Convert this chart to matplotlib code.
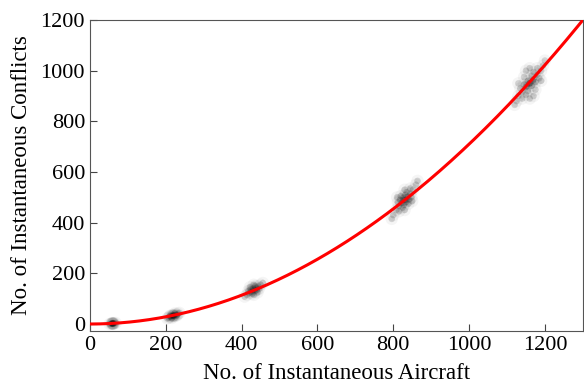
import matplotlib
matplotlib.use("Agg")
import matplotlib.pyplot as plt
import numpy as np

c1_x = [60, 56, 64, 52, 68, 58, 62, 60, 60, 60, 58, 62]
c1_y = [2, 1, 3, 0, 4, 3, 1, 0, 4, 2, 2, 2]

c2_x = [220, 214, 226, 208, 232, 204, 236, 218, 222, 212, 228, 216, 224, 210, 230,
        220, 218, 222]
c2_y = [33, 29, 37, 25, 41, 22, 44, 36, 30, 33, 33, 24, 42, 30, 36, 33, 32, 34]

c3_x = [432, 426, 438, 420, 444, 414, 450, 430, 434, 424, 440, 408, 456, 428, 436,
        418, 446, 432, 432, 442, 422]
c3_y = [135, 128, 142, 122, 148, 115, 155, 140, 130, 136, 134, 108, 162, 120, 150,
        130, 140, 155, 115, 125, 145]

c4_x = [830, 822, 838, 815, 845, 808, 852, 826, 834, 818, 842, 800, 860, 825, 835,
        812, 848, 830, 830, 796, 864, 820, 840, 828, 832, 815, 845, 810, 850, 826, 834]
c4_y = [490, 478, 502, 465, 515, 450, 530, 498, 482, 490, 492, 430, 550, 460, 520,
        480, 500, 530, 450, 415, 565, 505, 475, 470, 510, 445, 535, 500, 485, 490, 490]

c5_x = [1160, 1150, 1170, 1140, 1180, 1130, 1190, 1155, 1165, 1145, 1175, 1125, 1195,
        1150, 1170, 1135, 1185, 1160, 1160, 1120, 1200, 1145, 1175, 1155, 1165, 1140,
        1180, 1130, 1190, 1150, 1170, 1162, 1158, 1152, 1168]
c5_y = [950, 935, 965, 915, 985, 900, 1000, 960, 940, 945, 955, 880, 1020, 905, 995,
        930, 970, 1010, 890, 865, 1040, 975, 925, 920, 980, 890, 1010, 950, 960, 1000,
        900, 952, 948, 940, 960]

# quadratic fit coefficients (highest power first)
fit_coef = [7.1e-4, 0.0, 0.0]

plt.rcParams['font.family'] = ['Liberation Serif', 'DejaVu Serif']

fig = plt.figure(figsize=(5.84, 3.85), dpi=100)
ax = fig.add_axes([0.154, 0.140, 0.844, 0.808])

for xs, ys in [(c1_x, c1_y), (c2_x, c2_y), (c3_x, c3_y), (c4_x, c4_y), (c5_x, c5_y)]:
    # soft halo + denser core to look like a cloud of many faint points
    ax.scatter(xs, ys, s=80, color='black', alpha=0.04, edgecolors='none', zorder=2)
    ax.scatter(xs, ys, s=22, color='black', alpha=0.14, edgecolors='none', zorder=2)

xx = np.linspace(0, 1300, 300)
ax.plot(xx, np.polyval(fit_coef, xx), color='red', lw=2.2, zorder=3)

ax.set_xlim(0, 1300)
ax.set_ylim(-28, 1200)
ax.set_xticks([0, 200, 400, 600, 800, 1000, 1200])
ax.set_yticks([0, 200, 400, 600, 800, 1000, 1200])
ax.tick_params(direction='in', labelsize=16, length=5, color='#444444')
for s in ax.spines.values():
    s.set_color('#555555')
ax.set_xlabel('No. of Instantaneous Aircraft', fontsize=16.5, labelpad=6)
ax.set_ylabel('No. of Instantaneous Conflicts', fontsize=16.5, labelpad=6)

fig.savefig('out.png', dpi=100)
